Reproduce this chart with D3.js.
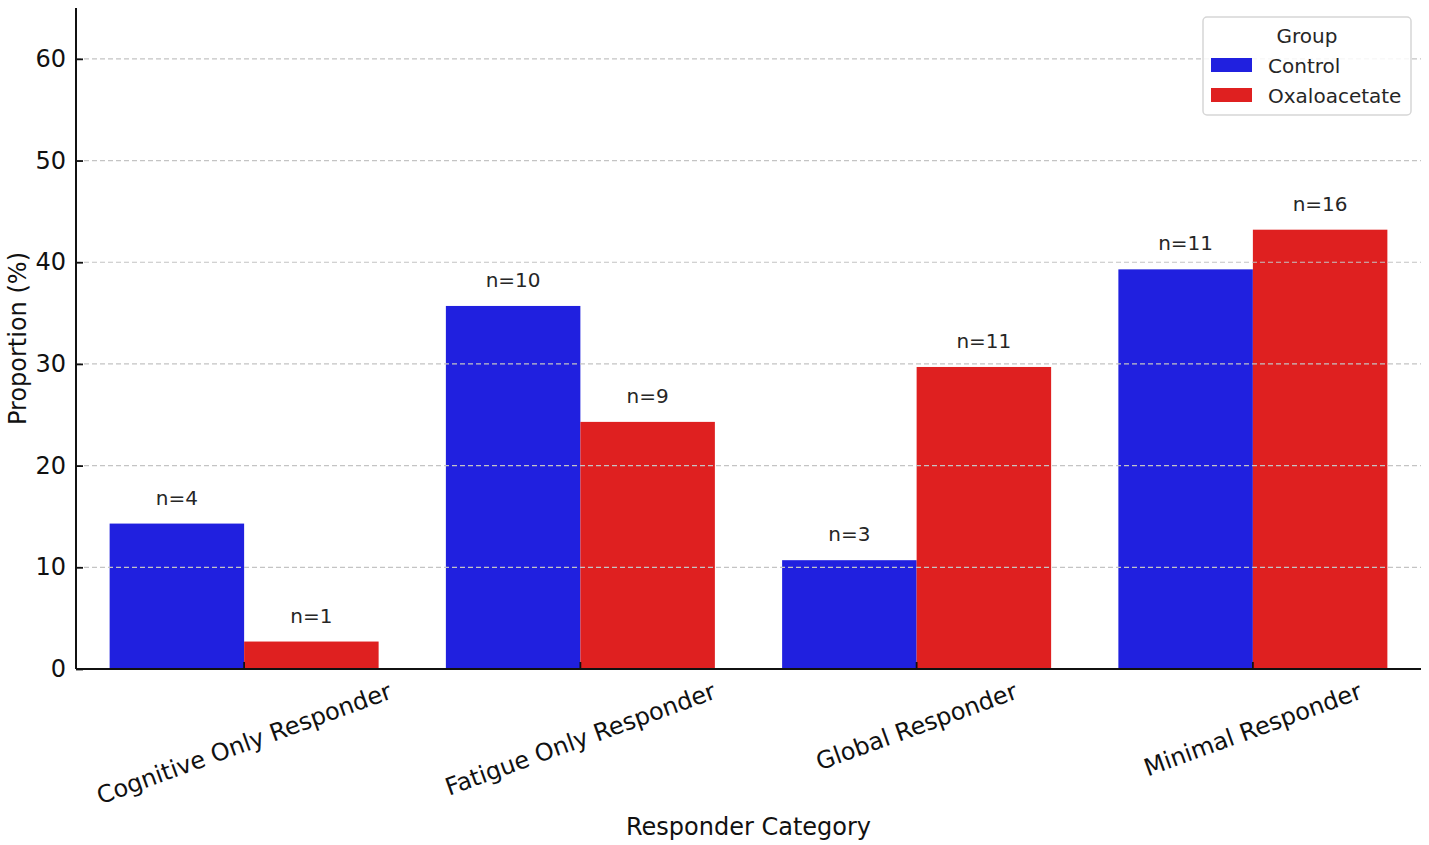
<!DOCTYPE html>
<html>
<head>
<meta charset="utf-8">
<script src="https://cdn.jsdelivr.net/npm/d3@7"></script>
<style>
  body { margin: 0; background: white; }
  text { font-family: "DejaVu Sans", sans-serif; }
</style>
</head>
<body>
<div id="chart"></div>
<script>
// data
const categories = ["Cognitive Only Responder", "Fatigue Only Responder", "Global Responder", "Minimal Responder"];
const groups = ["Control", "Oxaloacetate"];
const controlValues = [14.3, 35.7, 10.7, 39.3];
const oxaloValues = [2.7, 24.3, 29.7, 43.2];
const controlCounts = [4, 10, 3, 11];
const oxaloCounts = [1, 9, 11, 16];
const yTicks = [0, 10, 20, 30, 40, 50, 60];
const colors = ["#2020df", "#df2020"];

const width = 1429, height = 845;
const margin = {top: 8, right: 8, bottom: 176, left: 76};

const svg = d3.select("#chart").append("svg")
  .attr("width", width)
  .attr("height", height);

// seaborn-like: each category slot, two bars of 0.4 slot each
const x = d3.scaleBand()
  .domain(categories)
  .range([margin.left, width - margin.right])
  .padding(0);
const xCenter = c => x(c) + x.bandwidth() / 2;
const barW = x.bandwidth() * 0.4;

const y = d3.scaleLinear()
  .domain([0, 65])
  .range([height - margin.bottom, margin.top]);

const rows = [];
categories.forEach((c, i) => {
  rows.push({cat: c, g: 0, v: controlValues[i], n: controlCounts[i]});
  rows.push({cat: c, g: 1, v: oxaloValues[i], n: oxaloCounts[i]});
});

// bars
svg.append("g").selectAll("rect")
  .data(rows)
  .enter().append("rect")
    .attr("x", d => xCenter(d.cat) - barW + d.g * barW)
    .attr("y", d => y(d.v))
    .attr("width", barW)
    .attr("height", d => y(0) - y(d.v))
    .attr("fill", d => colors[d.g]);

// grid on top of bars, dashed
svg.append("g").selectAll("line")
  .data(yTicks.filter(t => t > 0))
  .enter().append("line")
    .attr("x1", margin.left).attr("x2", width - margin.right)
    .attr("y1", d => y(d)).attr("y2", d => y(d))
    .attr("stroke", "#c4c4c4")
    .attr("stroke-width", 1.2)
    .attr("stroke-dasharray", "5,3");

// n= labels
svg.append("g").selectAll("text")
  .data(rows)
  .enter().append("text")
    .attr("x", d => xCenter(d.cat) - barW / 2 + d.g * barW)
    .attr("y", d => y(d.v) - 19)
    .attr("text-anchor", "middle")
    .attr("font-size", 20)
    .attr("fill", "#262626")
    .text(d => "n=" + d.n);

// y axis, ticks pointing in
const yAxis = svg.append("g")
  .attr("transform", `translate(${margin.left},0)`)
  .call(d3.axisLeft(y).tickValues(yTicks).tickSize(-7).tickPadding(10));
yAxis.select(".domain").remove();
yAxis.selectAll("line").attr("stroke", "#111").attr("stroke-width", 1.8);
yAxis.selectAll("text").attr("font-size", 24).attr("fill", "#111")
  .attr("font-family", "DejaVu Sans");

// x axis ticks, also inward
svg.append("g").selectAll("line")
  .data(categories)
  .enter().append("line")
    .attr("x1", d => xCenter(d)).attr("x2", d => xCenter(d))
    .attr("y1", y(0)).attr("y2", y(0) - 7)
    .attr("stroke", "#111").attr("stroke-width", 1.8);

// spines
svg.append("line")
  .attr("x1", margin.left).attr("x2", margin.left)
  .attr("y1", margin.top).attr("y2", y(0))
  .attr("stroke", "#111").attr("stroke-width", 2);
svg.append("line")
  .attr("x1", margin.left).attr("x2", width - margin.right)
  .attr("y1", y(0)).attr("y2", y(0))
  .attr("stroke", "#111").attr("stroke-width", 2);

// x tick labels, rotated 20deg, centred on the tick
const tickTop = y(0) + 9;
const xl = svg.append("g");
categories.forEach(c => {
  const t = xl.append("text")
    .attr("font-size", 24)
    .attr("fill", "#111")
    .attr("text-anchor", "middle")
    .attr("dominant-baseline", "central")
    .text(c);
  const w = t.node().getComputedTextLength();
  const h = 24 * 1.1;
  const a = 20 * Math.PI / 180;
  const cy = tickTop + (w * Math.sin(a) + h * Math.cos(a)) / 2;
  t.attr("transform", `translate(${xCenter(c)},${cy}) rotate(-20)`);
});

// axis titles
svg.append("text")
  .attr("x", (margin.left + width - margin.right) / 2)
  .attr("y", 835)
  .attr("text-anchor", "middle")
  .attr("font-size", 24)
  .attr("fill", "#111")
  .text("Responder Category");

svg.append("text")
  .attr("transform", `translate(26,${(margin.top + y(0)) / 2}) rotate(-90)`)
  .attr("text-anchor", "middle")
  .attr("font-size", 24)
  .attr("fill", "#111")
  .text("Proportion (%)");

// legend
const lg = svg.append("g").attr("transform", "translate(1203,17)");
lg.append("rect")
  .attr("width", 208).attr("height", 98)
  .attr("rx", 4)
  .attr("fill", "white").attr("fill-opacity", 0.85)
  .attr("stroke", "#d6d6d6").attr("stroke-width", 1.5);
lg.append("text")
  .attr("x", 104).attr("y", 26)
  .attr("text-anchor", "middle")
  .attr("font-size", 20).attr("fill", "#262626")
  .text("Group");
groups.forEach((g, i) => {
  lg.append("rect")
    .attr("x", 8).attr("y", 41 + i * 30)
    .attr("width", 41).attr("height", 14)
    .attr("fill", colors[i]);
  lg.append("text")
    .attr("x", 65).attr("y", 56 + i * 30)
    .attr("font-size", 20).attr("fill", "#262626")
    .text(g);
});
</script>
</body>
</html>
